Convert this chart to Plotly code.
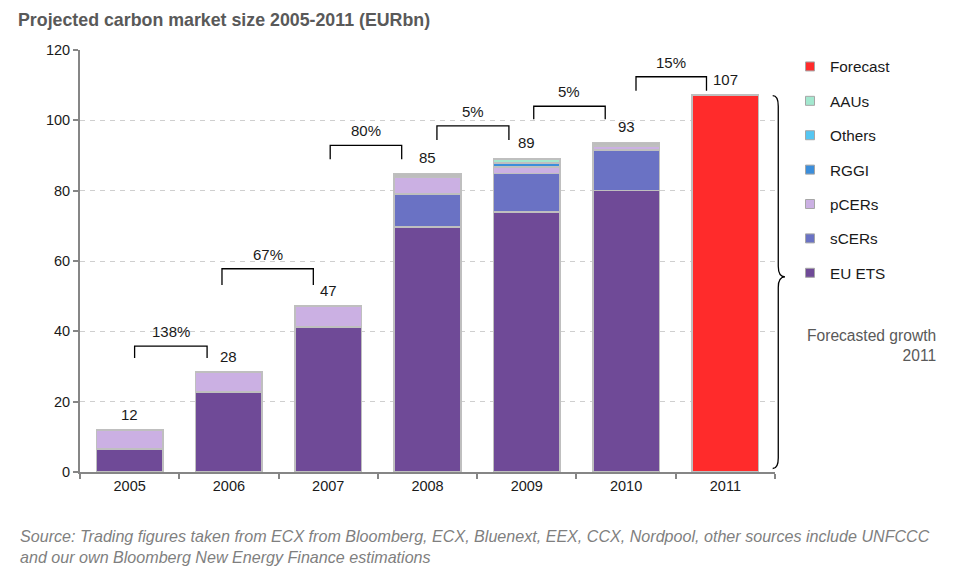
import plotly.graph_objects as go

# ---------------- data ----------------
years = ["2005", "2006", "2007", "2008", "2009", "2010", "2011"]
eu_ets = [6.5, 22.8, 41.2, 69.6, 74.0, 80.0, None]
scers = [None, None, None, 9.4, 10.9, 11.6, None]
pcers = [5.5, 5.6, 6.0, 4.8, 1.9, 1.1, None]
rggi = [None, None, None, None, 0.9, None, None]
others = [None, None, None, None, 0.3, None, None]
aaus = [None, None, None, None, 0.9, None, None]
unallocated = [None, None, None, 1.1, 0.3, 1.0, None]
forecast = [None, None, None, None, None, None, 107.2]
total_labels = ["12", "28", "47", "85", "89", "93", "107"]
totals = [12.0, 28.4, 47.2, 84.9, 89.2, 93.7, 107.2]
growth_labels = ["138%", "67%", "80%", "5%", "5%", "15%"]

series = [
    ("EU ETS", eu_ets, "#6F4A97", True),
    ("sCERs", scers, "#6A72C4", True),
    ("pCERs", pcers, "#CBB0E3", True),
    ("RGGI", rggi, "#3B8EDB", True),
    ("Others", others, "#55C6F2", True),
    ("AAUs", aaus, "#A3E8CF", True),
    ("Unallocated", unallocated, "#BDBDBD", False),
    ("Forecast", forecast, "#FF2B2B", True),
]

fig = go.Figure()

# legend entries (top to bottom as in the reference)
for rank, (name, vals, color, leg) in enumerate(reversed(series)):
    if leg:
        fig.add_trace(go.Scatter(
            x=[None], y=[None], mode="markers", name=name, legendgroup="leg_" + name,
            legendrank=rank + 1, showlegend=True,
            marker=dict(symbol="square", size=9, color=color,
                        line=dict(color="#A6A6A6", width=1)),
        ))

for name, vals, color, leg in series:
    fig.add_trace(go.Bar(
        x=years, y=vals, name=name, showlegend=False,
        marker=dict(color=color, line=dict(color="#BFBFBF", width=1.5)),
        width=0.67, hoverinfo="x+y+name",
    ))

# ---------------- layout geometry (annotation positions) ----------------
# bracket: (x_left, x_right, y_line, leg_length)
brackets = [
    (0.05, 0.78, 35.8, 3.4),
    (0.93, 1.85, 57.8, 4.6),
    (2.02, 2.74, 92.9, 4.0),
    (3.095, 3.82, 98.4, 4.0),
    (4.07, 4.79, 104.0, 3.7),
    (5.10, 5.81, 112.4, 4.0),
]
shapes = []
annotations = []
for (x0, x1, yl, leg), lab in zip(brackets, growth_labels):
    shapes.append(dict(
        type="path", xref="x", yref="y",
        path=f"M {x0},{yl-leg} L {x0},{yl} L {x1},{yl} L {x1},{yl-leg}",
        line=dict(color="black", width=1.3),
    ))
    annotations.append(dict(
        x=(x0 + x1) / 2, y=yl, xref="x", yref="y", text=lab, showarrow=False,
        yanchor="bottom", yshift=4, font=dict(size=15, color="#1a1a1a"),
    ))

for i, (lab, tot) in enumerate(zip(total_labels, totals)):
    annotations.append(dict(
        x=i, y=tot, xref="x", yref="y", text=lab, showarrow=False,
        yanchor="bottom", yshift=5, font=dict(size=15, color="#1a1a1a"),
    ))

# curly brace on the right
bx0, bx1, bx2 = 0.9967, 1.0047, 1.0144
yt, ym, yb, d = 107.0, 55.5, 1.0, 3.0
shapes.append(dict(
    type="path", xref="paper", yref="y",
    path=(f"M {bx0},{yt} Q {bx1},{yt} {bx1},{yt-d} L {bx1},{ym+d} "
          f"Q {bx1},{ym} {bx2},{ym} Q {bx1},{ym} {bx1},{ym-d} "
          f"L {bx1},{yb+d} Q {bx1},{yb} {bx0},{yb}"),
    line=dict(color="black", width=1.3),
))

annotations.append(dict(
    x=(938 - 80) / 695, y=(472 - 345.5) / 422, xref="paper", yref="paper",
    xanchor="right", yanchor="middle", align="right", showarrow=False,
    text="Forecasted growth<br>2011", font=dict(size=15.6, color="#595959"),
))
annotations.append(dict(
    x=(18 - 80) / 695, y=(472 - 546.5) / 422, xref="paper", yref="paper",
    xanchor="left", yanchor="middle", align="left", showarrow=False,
    text=("<i>Source: Trading figures taken from ECX from Bloomberg, ECX, Bluenext, EEX, CCX, "
          "Nordpool, other sources include UNFCCC<br>and our own Bloomberg New Energy Finance "
          "estimations</i>"),
    font=dict(size=16.1, color="#7F7F7F"),
))

fig.update_layout(
    width=962, height=574,
    margin=dict(l=80, r=187, t=50, b=102),
    paper_bgcolor="white", plot_bgcolor="white",
    barmode="stack", bargap=0.33,
    font=dict(family="Liberation Sans, Arial, sans-serif", size=14.5, color="#1a1a1a"),
    title=dict(text="<b>Projected carbon market size 2005-2011 (EURbn)</b>",
               x=18 / 962, xref="container", xanchor="left",
               y=1 - 20 / 574, yref="container", yanchor="middle",
               font=dict(size=17.8, color="#595959")),
    xaxis=dict(type="category", showline=True, linecolor="#868686", linewidth=2,
               ticks="outside", tickson="boundaries", ticklen=5, tickcolor="#868686",
               tickwidth=1.5, showgrid=False, tickfont=dict(size=14.5, color="#1a1a1a")),
    yaxis=dict(range=[0, 120], dtick=20, showline=True, linecolor="#868686", linewidth=2,
               ticks="outside", ticklen=5, tickcolor="#868686", tickwidth=1.5,
               showgrid=True, gridcolor="#CFCFCF", griddash="5px,5px", gridwidth=1,
               zeroline=False, tickfont=dict(size=14.5, color="#1a1a1a")),
    legend=dict(x=(790 - 80) / 695, xanchor="left", y=(472 - 50) / 422, yanchor="top",
                traceorder="grouped", tracegroupgap=11.5,
                font=dict(size=15.3, color="#1a1a1a"), bgcolor="rgba(0,0,0,0)"),
    shapes=shapes, annotations=annotations, showlegend=True,
)

fig.write_html("out.html")
